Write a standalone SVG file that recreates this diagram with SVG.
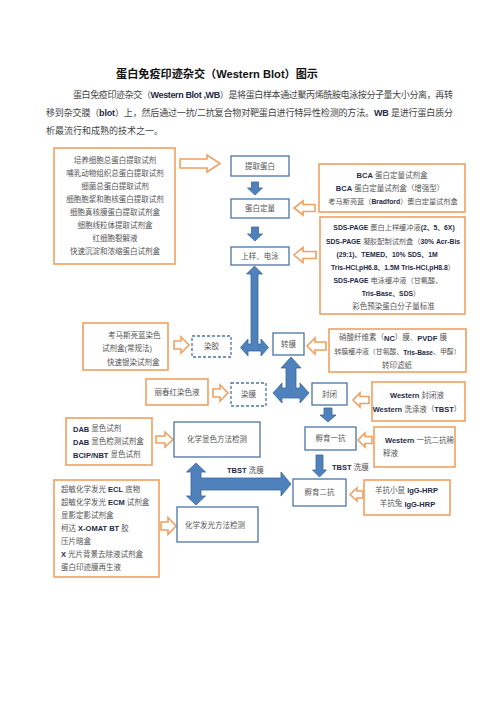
<svg xmlns="http://www.w3.org/2000/svg" width="496" height="702" viewBox="0 0 496 702">
<style>
text{font-family:"Liberation Sans","Noto Sans CJK SC",sans-serif;dominant-baseline:central;fill:#555}
.t{font-size:7.5px}
.s{font-size:7.2px}
.x{font-size:6.9px}
.c{text-anchor:middle}
.b{font-weight:bold;fill:#1f2a44}
.s .b{font-size:6.8px}
.x .b{font-size:6.6px}
.p{font-size:9px;fill:#444}
.ob{fill:#fff;stroke:#f0a060;stroke-width:1.6}
.bb{fill:#fff;stroke:#4a74a6;stroke-width:1.3}
.db{fill:#fff;stroke:#4a74a6;stroke-width:1.3;stroke-dasharray:3 2}
.oa{fill:#fff;stroke:#f0a060;stroke-width:1.6}
.ba{fill:#4f81bd;stroke:#3a6799;stroke-width:0.8}
</style>
<rect width="496" height="702" fill="#fff"/>
<g id="header">
<text x="116" y="73.5" font-size="11" font-weight="bold" textLength="202" lengthAdjust="spacingAndGlyphs" style="fill:#111">蛋白免疫印迹杂交（Western Blot）图示</text>
<text class="p" x="73" y="95" textLength="380" lengthAdjust="spacing">蛋白免疫印迹杂交（<tspan class="b">Western Blot ,WB</tspan>）是将蛋白样本通过聚丙烯酰胺电泳按分子量大小分离，再转</text>
<text class="p" x="46" y="113" textLength="407" lengthAdjust="spacing">移到杂交膜（<tspan class="b">blot</tspan>）上，然后通过一抗/二抗复合物对靶蛋白进行特异性检测的方法。<tspan class="b">WB</tspan> 是进行蛋白质分</text>
<text class="p" x="46" y="131">析最流行和成熟的技术之一。</text>
</g>
<g id="connectors">
<path class="oa" d="M180,159 L207,159 L207,155 L220,163.5 L207,172 L207,168 L180,168 Z"/>
<path class="oa" d="M315,204.5 L303,204.5 L303,201 L294,208 L303,215 L303,211.5 L315,211.5 Z"/>
<path class="oa" d="M316,251.5 L303,251.5 L303,247.5 L294,255 L303,262.5 L303,258.5 L316,258.5 Z"/>
<path class="oa" d="M174,341 L181,341 L181,337 L189,345 L181,353 L181,349 L174,349 Z"/>
<path class="oa" d="M326,342 L315,342 L315,338 L307,346 L315,354 L315,350 L326,350 Z"/>
<path class="oa" d="M213,389 L220,389 L220,385 L228,393 L220,401 L220,397 L213,397 Z"/>
<path class="oa" d="M369,396.5 L360,396.5 L360,393 L353,400 L360,407 L360,403.5 L369,403.5 Z"/>
<path class="oa" d="M372,436.5 L365,436.5 L365,433 L358,440 L365,447 L365,443.5 L372,443.5 Z"/>
<path class="oa" d="M363,491 L357,491 L357,488 L350,494.5 L357,501 L357,498 L363,498 Z"/>
<path class="oa" d="M156,436 L165,436 L165,432 L173,439.5 L165,447 L165,443 L156,443 Z"/>
<path class="oa" d="M161,522 L168,522 L168,517.5 L176,526 L168,534.5 L168,530 L161,530 Z"/>
<path class="ba" d="M251.5,182 L258.5,182 L258.5,188 L262.5,188 L255,195 L247.5,188 L251.5,188 Z"/>
<path class="ba" d="M251.5,227 L258.5,227 L258.5,234 L262.5,234 L255,241 L247.5,234 L251.5,234 Z"/>
<path class="ba" d="M324,408 L332,408 L332,415 L336,415 L328,422 L320,415 L324,415 Z"/>
<path class="ba" d="M316,455 L323,455 L323,470 L326.5,470 L319.5,477 L312.5,470 L316,470 Z"/>
<path class="ba" d="M254.5,266 L262.5,274 L258,274 L258,344 L261,344 L261,339 L268.5,347.5 L261,356 L261,351 L248,351 L248,356 L240.5,347.5 L248,339 L248,344 L251,344 L251,274 L246.5,274 Z"/>
<path class="ba" d="M291,357 L301,368 L296,368 L296,388 L300,388 L300,383 L309,393 L300,403 L300,398 L282,398 L282,403 L273,393 L282,383 L282,388 L286,388 L286,368 L281,368 Z"/>
<path class="ba" d="M196,463 L205.5,472 L201,472 L201,478 L281,478 L281,472 L291,484 L281,496 L281,490 L201,490 L201,496 L205.5,496 L196,505 L186.5,496 L191,496 L191,472 L186.5,472 Z"/>
<text class="t" x="227" y="470"><tspan class="b">TBST</tspan> 洗膜</text>
<text class="t" x="332" y="467"><tspan class="b">TBST</tspan> 洗膜</text>
</g>
<g id="extract-reagents">
<rect class="ob" x="54" y="148" width="121" height="116"/>
<text class="t c" x="115" y="160">培养细胞总蛋白提取试剂</text>
<text class="t c" x="115" y="173">哺乳动物组织总蛋白提取试剂</text>
<text class="t c" x="115" y="186">细菌总蛋白提取试剂</text>
<text class="t c" x="115" y="199">细胞胞浆和胞核蛋白提取试剂</text>
<text class="t c" x="115" y="212">细胞真核膜蛋白提取试剂盒</text>
<text class="t c" x="115" y="225">细胞线粒体提取试剂盒</text>
<text class="t c" x="115" y="238">红细胞裂解液</text>
<text class="t c" x="115" y="251">快速沉淀和浓缩蛋白试剂盒</text>
</g>
<g id="extract"><rect class="bb" x="231" y="156" width="58" height="20"/><text class="t c" x="260" y="166">提取蛋白</text></g>
<g id="quant"><rect class="bb" x="231" y="199" width="58" height="19"/><text class="t c" x="260" y="208.5">蛋白定量</text></g>
<g id="load"><rect class="bb" x="231" y="247" width="58" height="18"/><text class="t c" x="260" y="256">上样、电泳</text></g>
<g id="quant-reagents">
<rect class="ob" x="319" y="164" width="146" height="48"/>
<text class="t c" x="392" y="175"><tspan class="b">BCA</tspan> 蛋白定量试剂盒</text>
<text class="t c" x="390" y="188"><tspan class="b">BCA</tspan> 蛋白定量试剂盒（增强型）</text>
<text class="s c" x="393" y="201">考马斯亮蓝（<tspan class="b">Bradford</tspan>）蛋白定量试剂盒</text>
</g>
<g id="sds-reagents">
<rect class="ob" x="320" y="217" width="145" height="97"/>
<text class="s c" x="394" y="227"><tspan class="b">SDS-PAGE</tspan> 蛋白上样缓冲液<tspan class="b">(2、5、6X)</tspan></text>
<text class="s c" x="393" y="241"><tspan class="b">SDS-PAGE</tspan> 凝胶配制试剂盒（<tspan class="b">30% Acr-Bis</tspan></text>
<text class="s c" x="387" y="254"><tspan class="b">(29:1)、TEMED、10% SDS、1M</tspan></text>
<text class="s c" x="393" y="267"><tspan class="b">Tris-HCl,pH6.8、1.5M Tris-HCl,pH8.8</tspan>）</text>
<text class="s c" x="388" y="280"><tspan class="b">SDS-PAGE</tspan> 电泳缓冲液（甘氨酸、</text>
<text class="s c" x="391" y="293"><tspan class="b">Tris-Base、SDS</tspan>）</text>
<text class="t c" x="393.5" y="306">彩色预染蛋白分子量标准</text>
</g>
<g id="coomassie">
<rect class="ob" x="83" y="323" width="85" height="47"/>
<text class="t" x="108" y="335">考马斯亮蓝染色</text>
<text class="t" x="102" y="348.5">试剂盒(常规法)</text>
<text class="t" x="107" y="362">快速银染试剂盒</text>
</g>
<g id="stain-gel"><rect class="db" x="192" y="336" width="39" height="21"/><text class="t c" x="211.5" y="346.5">染胶</text></g>
<g id="transfer"><rect class="bb" x="273" y="333" width="31" height="22"/><text class="t c" x="288.5" y="344">转膜</text></g>
<g id="transfer-reagents">
<rect class="ob" x="329" y="329" width="137" height="43"/>
<text class="t c" x="393" y="337.5">硝酸纤维素（<tspan class="b">NC</tspan>）膜、<tspan class="b">PVDF</tspan> 膜</text>
<text class="x c" x="397.5" y="351.5">转膜缓冲液（甘氨酸、<tspan class="b">Tris-Base</tspan>、甲醇）</text>
<text class="t c" x="397" y="365">转印滤纸</text>
</g>
<g id="ponceau"><rect class="ob" x="146" y="379" width="62" height="26"/><text class="t c" x="177" y="392.5">丽春红染色液</text></g>
<g id="stain-membrane"><rect class="db" x="231" y="383" width="35" height="23"/><text class="t c" x="248.5" y="394.5">染膜</text></g>
<g id="block"><rect class="bb" x="312" y="383" width="35" height="22"/><text class="t c" x="329.5" y="394">封闭</text></g>
<g id="block-reagents">
<rect class="ob" x="372" y="382" width="93" height="39"/>
<text class="t c" x="417" y="395"><tspan class="b">Western</tspan> 封闭液</text>
<text class="t c" x="417" y="409"><tspan class="b">Western</tspan> 洗涤液（<tspan class="b">TBST</tspan>）</text>
</g>
<g id="primary"><rect class="bb" x="305" y="427" width="51" height="23"/><text class="t c" x="330.5" y="438.5">孵育一抗</text></g>
<g id="dilution">
<rect class="ob" x="374" y="427" width="81" height="40"/>
<text class="t" x="385" y="440"><tspan class="b">Western</tspan> 一抗二抗稀</text>
<text class="t" x="383" y="453.5">释液</text>
</g>
<g id="secondary"><rect class="bb" x="293" y="479" width="53" height="27"/><text class="t c" x="319.5" y="492.5">孵育二抗</text></g>
<g id="antibodies">
<rect class="ob" x="364" y="480" width="86" height="35"/>
<text class="t c" x="406.5" y="490">羊抗小鼠 <tspan class="b">IgG-HRP</tspan></text>
<text class="t c" x="407.5" y="503.5">羊抗兔 <tspan class="b">IgG-HRP</tspan></text>
</g>
<g id="dab">
<rect class="ob" x="66" y="418" width="86" height="47"/>
<text class="t" x="73" y="428.5"><tspan class="b">DAB</tspan> 显色试剂</text>
<text class="t" x="73" y="441.5"><tspan class="b">DAB</tspan> 显色检测试剂盒</text>
<text class="t" x="73" y="454.5"><tspan class="b">BCIP/NBT</tspan> 显色试剂</text>
</g>
<g id="chromogenic"><rect class="bb" x="174" y="422" width="86" height="35"/><text class="t c" x="217" y="439.5">化学显色方法检测</text></g>
<g id="ecl">
<rect class="ob" x="54" y="480" width="105" height="97"/>
<text class="t" x="61" y="489">超敏化学发光 <tspan class="b">ECL</tspan> 底物</text>
<text class="t" x="61" y="502">超敏化学发光 <tspan class="b">ECM</tspan> 试剂盒</text>
<text class="t" x="61" y="515">显影定影试剂盒</text>
<text class="t" x="61" y="528">柯达 <tspan class="b">X-OMAT BT</tspan> 胶</text>
<text class="t" x="61" y="541">压片暗盒</text>
<text class="t" x="61" y="554"><tspan class="b">X</tspan> 光片背景去除液试剂盒</text>
<text class="t" x="61" y="567">蛋白印迹膜再生液</text>
</g>
<g id="chemiluminescent"><rect class="bb" x="177" y="507" width="81" height="35"/><text class="t c" x="215" y="525">化学发光方法检测</text></g>
</svg>
